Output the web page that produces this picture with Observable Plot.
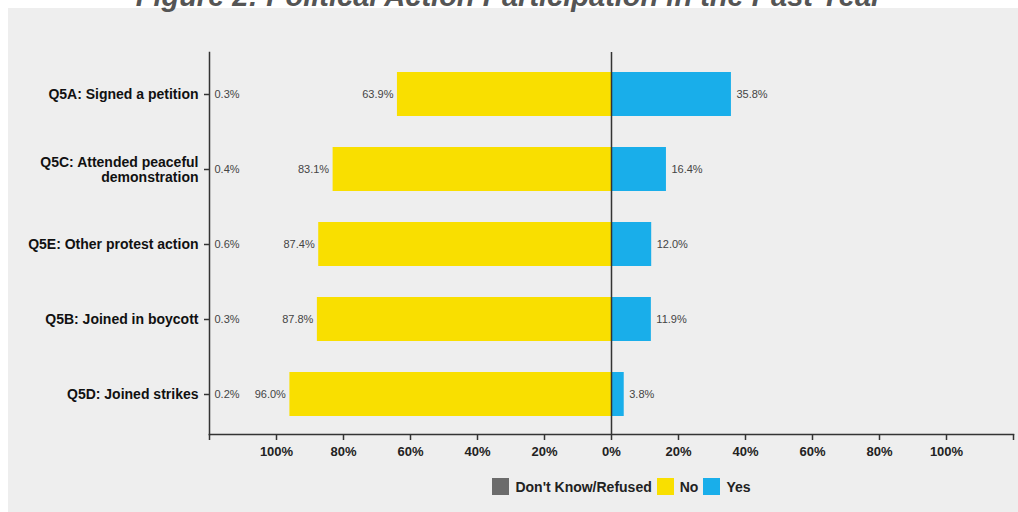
<!DOCTYPE html>
<html>
<head>
<meta charset="utf-8">
<script src="https://cdn.jsdelivr.net/npm/d3@7"></script>
<script src="https://cdn.jsdelivr.net/npm/@observablehq/plot@0.6"></script>
<style>
  html, body { margin: 0; padding: 0; background: #ffffff; width: 1018px; height: 512px; overflow: hidden; position: relative; font-family: "Liberation Sans", Arial, Helvetica, sans-serif; }
  #panel { position: absolute; left: 8px; top: 8px; width: 1010px; height: 504px; background: #eeeeee; }
  #title { position: absolute; left: 0; width: 1018px; top: -18px; line-height: 29px; text-align: center; font-size: 29px; font-weight: bold; font-style: italic; color: #555555; white-space: nowrap; }
  #chart { position: absolute; left: 0; top: 0; }
  #legend { position: absolute; left: 222px; width: 804px; top: 478px; display: flex; justify-content: center; align-items: center; font-size: 14px; font-weight: bold; color: #222; }
  #legend .item { display: flex; align-items: center; margin-right: 5px; }
  #legend .sw { width: 17px; height: 17px; margin-right: 6px; }
</style>
</head>
<body>
<div id="panel"></div>
<div id="title"></div>
<div id="chart"></div>
<div id="legend"></div>
<script>
const titleText = "Figure 2: Political Action Participation in the Past Year";
const questions = [
  "Q5A: Signed a petition",
  "Q5C: Attended peaceful\ndemonstration",
  "Q5E: Other protest action",
  "Q5B: Joined in boycott",
  "Q5D: Joined strikes"
];
const yesValues = [35.8, 16.4, 12.0, 11.9, 3.8];
const noValues = [63.9, 83.1, 87.4, 87.8, 96.0];
const dkValues = [0.3, 0.4, 0.6, 0.3, 0.2];
const xTicks = [-120, -100, -80, -60, -40, -20, 0, 20, 40, 60, 80, 100, 120];
const legendLabels = ["Don't Know/Refused", "No", "Yes"];
const legendColors = ["#6b6b6b", "#f9df00", "#19aeea"];

document.getElementById("title").textContent = titleText;

const rows = questions.map((q, i) => ({q, yes: yesValues[i], no: noValues[i], dk: dkValues[i]}));
const fmt = v => v.toFixed(1) + "%";

const chart = Plot.plot({
  width: 1018,
  height: 470,
  marginLeft: 209,
  marginRight: 5,
  marginTop: 52,
  marginBottom: 36,
  style: {background: "transparent", fontFamily: "Liberation Sans, Arial, sans-serif", overflow: "visible"},
  x: {domain: [-120, 120], ticks: xTicks, label: null},
  y: {domain: questions, range: [56.5, 431.5], paddingInner: 0.41, paddingOuter: 0.205, label: null},
  marks: [
    Plot.barX(rows, {y: "q", x1: d => -d.no, x2: 0, fill: legendColors[1]}),
    Plot.barX(rows, {y: "q", x1: 0, x2: "yes", fill: legendColors[2]}),
    Plot.ruleX([0], {stroke: "#333", strokeWidth: 1.5}),
    Plot.frame({anchor: "left", stroke: "#333", strokeWidth: 1.5}),
    Plot.frame({anchor: "bottom", stroke: "#333", strokeWidth: 1.5}),
    Plot.text(rows, {y: "q", x: d => -d.no, dx: -4, text: d => fmt(d.no), textAnchor: "end", fontSize: 11, fill: "#444"}),
    Plot.text(rows, {y: "q", x: "yes", dx: 5, text: d => fmt(d.yes), textAnchor: "start", fontSize: 11, fill: "#444"}),
    Plot.text(rows, {y: "q", x: -120, dx: 5, text: d => fmt(d.dk), textAnchor: "start", fontSize: 11, fill: "#444"}),
    Plot.axisX({ticks: xTicks, tickFormat: d => Math.abs(d) === 120 ? "" : Math.abs(d) + "%", tickSize: 6, tickPadding: 6, fontSize: 13, fontWeight: "bold", stroke: "#333", strokeWidth: 1.5, fill: "#222", label: null}),
    Plot.axisY({tickSize: 5, tickPadding: 6, fontSize: 14, fontWeight: "bold", stroke: "#333", strokeWidth: 1.5, fill: "#111", lineHeight: 1.05, label: null})
  ]
});
document.getElementById("chart").appendChild(chart);

const legend = document.getElementById("legend");
legendLabels.forEach((lab, i) => {
  const item = document.createElement("div");
  item.className = "item";
  const sw = document.createElement("div");
  sw.className = "sw";
  sw.style.background = legendColors[i];
  const t = document.createElement("span");
  t.textContent = lab;
  item.appendChild(sw);
  item.appendChild(t);
  legend.appendChild(item);
});
</script>
</body>
</html>
